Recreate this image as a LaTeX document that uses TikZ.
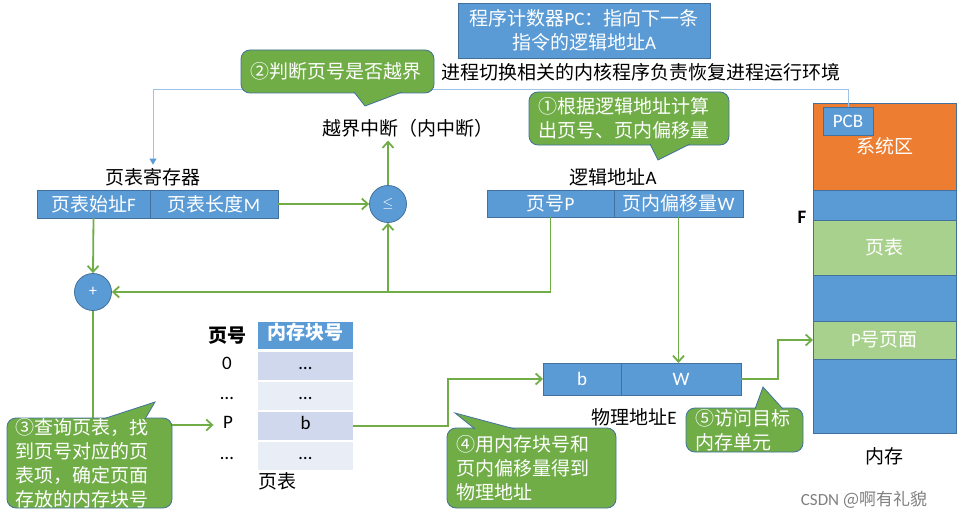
\documentclass[tikz,border=0pt]{standalone}
\usepackage{fontspec}
\setmainfont{Noto Sans CJK SC}
\newfontfamily\lat{Carlito}
\usetikzlibrary{arrows.meta, positioning}

\definecolor{boxblue}{HTML}{5B9BD5}
\definecolor{boxedge}{HTML}{41719C}
\definecolor{notegreen}{HTML}{70AD47}
\definecolor{linegreen}{HTML}{70AD47}
\definecolor{sysorange}{HTML}{ED7D31}
\definecolor{pagegreen}{HTML}{A9D18E}
\definecolor{thinblue}{HTML}{9DC3E6}
\definecolor{rowdark}{HTML}{CFD8EC}
\definecolor{rowlight}{HTML}{E9EDF6}

\newcommand{\labelsize}{\fontsize{19}{24}\selectfont}

\begin{document}
\begin{tikzpicture}[
    x=1pt, y=-1pt,
    font=\labelsize,
    flow/.style={draw=linegreen, line width=1.8pt, -{Straight Barb[length=6pt, width=11pt]}},
    link/.style={draw=thinblue, line width=0.9pt, -{Triangle[length=6pt, width=7pt, color=boxblue]}},
    cell/.style={draw=boxedge, fill=boxblue, text=white, line width=0.8pt, minimum height=28pt, inner sep=0pt, outer sep=0pt},
    dot/.style={circle, draw=boxedge, fill=boxblue, text=white, line width=0.8pt, minimum size=37pt, inner sep=0pt, font=\fontsize{15}{17}\selectfont},
    seg/.style={draw=boxedge, line width=0.8pt, minimum width=143pt, inner sep=0pt, outer sep=0pt, text=white},
    row/.style={minimum width=95pt, minimum height=28pt, inner sep=0pt, text height=1.6ex, text depth=.3ex},
    num/.style={text height=1.6ex, text depth=.3ex},
    note/.style={fill=notegreen, draw=boxedge, line width=0.8pt, rounded corners=9pt, text=white, align=left, inner xsep=9pt, inner ysep=0pt},
    tail/.style={fill=notegreen, draw=boxedge, line width=0.8pt}
]
    \useasboundingbox (0,0) rectangle (962,519);

    % PC and context switch
    \node[cell, minimum width=252pt, minimum height=55pt, align=center] (pc) at (584, 30.5) {程序计数器{\lat PC}：指向下一条\\指令的逻辑地址{\lat A}};
    \node (ctx) at (641, 72) {进程切换相关的内核程序负责恢复进程运行环境};

    % Page table register
    \node (reg) at (153, 177) {页表寄存器};
    \node[cell, minimum width=113pt] (base) at (93.5, 204) {页表始址{\lat F}};
    \node[cell, minimum width=128pt, right=0pt of base] (len) {页表长度{\lat M}};

    % Compare and add
    \node[dot] (cmp) at (388, 204) {$\leq$};
    \node[dot] (add) at (93, 292) {+};
    \node (bound) at (408, 128) {越界中断（内中断）};

    % Logical address
    \node (laddr) at (613, 177) {逻辑地址{\lat A}};
    \node[cell, minimum width=127pt, minimum height=27pt] (pnum) at (550.5, 203.5) {页号{\lat P}};
    \node[cell, minimum width=129pt, minimum height=27pt, right=0pt of pnum] (woff) {页内偏移量{\lat W}};

    % Page table
    \node[font=\labelsize\bfseries] (hnum) at (227, 336) {页号};
    \node[row, fill=boxblue, text=white, font=\labelsize\bfseries, minimum height=27pt] (hblk) at (305.5, 335.5) {内存块号};
    \node[row, fill=rowdark] (r0) at (305.5, 366) {\lat …};
    \node[row, fill=rowlight] (r1) at (305.5, 396) {\lat …};
    \node[row, fill=rowdark] (rP) at (305.5, 426) {\lat b};
    \node[row, fill=rowlight] (r3) at (305.5, 455.5) {\lat …};
    \node[num] (n0) at (227, 366) {\lat 0};
    \node[num] (n1) at (227, 396) {\lat …};
    \node[num] (nP) at (228, 425) {\lat P};
    \node[num] (n3) at (227, 456) {\lat …};
    \node (tbl) at (277, 481) {页表};

    % Physical address
    \node[cell, minimum width=78pt, minimum height=32pt] (pb) at (582, 379) {\lat b};
    \node[cell, minimum width=120pt, minimum height=32pt, right=0pt of pb] (pw) {\lat W};
    \node (paddr) at (634, 417) {物理地址{\lat E}};

    % Memory
    \node[seg, fill=sysorange, minimum height=87pt] (sys) at (884.5, 146.5) {系统区};
    \node[seg, fill=boxblue, minimum height=30pt, below=0pt of sys] (m1) {};
    \node[seg, fill=pagegreen, minimum height=55pt, below=0pt of m1] (ptab) {页表};
    \node[seg, fill=boxblue, minimum height=46pt, below=0pt of ptab] (m2) {};
    \node[seg, fill=pagegreen, minimum height=38pt, below=0pt of m2] (page) {{\lat P}号页面};
    \node[seg, fill=boxblue, minimum height=74pt, below=0pt of page] (m3) {};
    \node[cell, minimum width=50pt, minimum height=28pt] (pcb) at (848, 121) {\lat PCB};
    \node[font=\labelsize\lat\bfseries] (flab) at (802, 217) {F};
    \node (mem) at (884, 456) {内存};

    % Connectors
    \draw[link] (pcb.north) -- ++(0,-18) -| (reg.north);
    \draw[flow] (base.south) -- (add.north);
    \draw[flow] (len.east) -- (cmp.west);
    \draw[flow] (cmp.north) -- (cmp.north |- bound.south);
    \draw[flow] (pnum.south) |- (add.east);
    \coordinate (split) at (cmp |- add);
    \draw[flow] (split) -- (cmp.south);
    \draw[flow] (woff.south) -- (woff.south |- pw.north);
    \draw[flow, shorten >=6pt] (add.south) |- (nP.west);
    \draw[flow] (rP.east) -- ++(95,0) |- (pb.west);
    \draw[flow] (pw.east) -- ++(37,0) |- (page.west);

    % Notes
    \node[note, minimum width=193pt, minimum height=43pt, text width=175pt] (c2) at (337.5, 71.5) {②判断页号是否越界};
    \path[tail] (354,92) -- (365,106) -- (402,92);
    \node[note, minimum width=200pt, minimum height=53pt, text width=182pt] (c1) at (629, 118.5) {①根据逻辑地址计算\\出页号、页内偏移量};
    \path[tail] (650,144) -- (658,160) -- (690,144);
    \node[note, minimum width=165pt, minimum height=90pt, text width=147pt] (c3) at (89.5, 463) {③查询页表，找\\到页号对应的页\\表项，确定页面\\存放的内存块号};
    \path[tail] (103,419) -- (155,402) -- (145,419);
    \node[note, minimum width=169pt, minimum height=80pt, text width=151pt] (c4) at (531.5, 468) {④用内存块号和\\页内偏移量得到\\物理地址};
    \path[tail] (475,429) -- (455,413) -- (515,429);
    \node[note, minimum width=117pt, minimum height=44pt, text width=99pt] (c5) at (744.5, 430) {⑤访问目标\\内存单元};
    \path[tail] (755,409) -- (763,387) -- (783,409);

    \node[text=gray, font=\fontsize{17}{20}\selectfont] (mark) at (864, 500) {{\lat CSDN} @啊有礼貌};
\end{tikzpicture}
\end{document}
